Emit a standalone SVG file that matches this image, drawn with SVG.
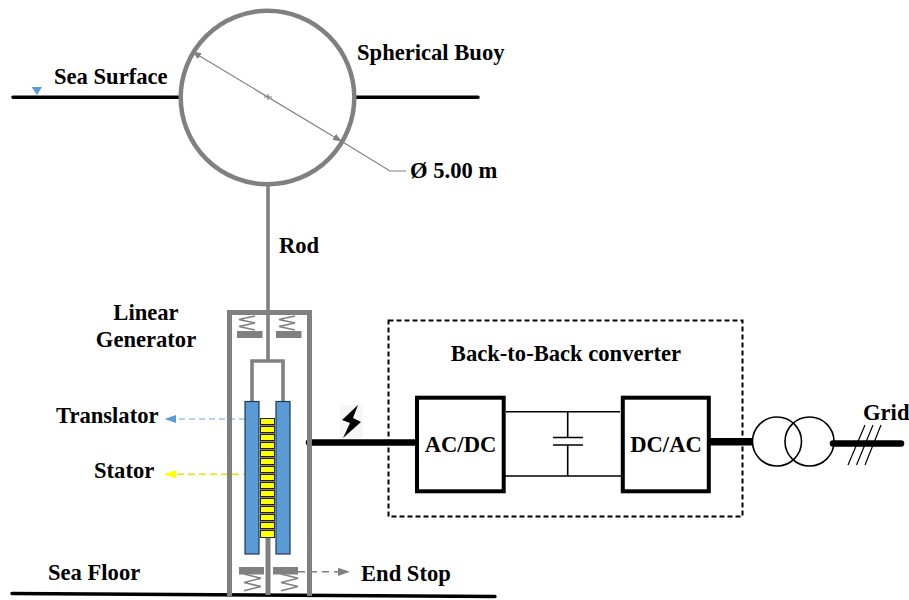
<svg xmlns="http://www.w3.org/2000/svg" width="909" height="600" viewBox="0 0 909 600">
<style>
text{font-family:"Liberation Serif","Times New Roman",serif;font-weight:bold;font-size:22.6px;fill:#000}
.g{fill:none;stroke:#808080;stroke-width:3.6}
.h{fill:none;stroke:#808080;stroke-width:5}
.k{fill:none;stroke:#000;stroke-linecap:round}
.bar{fill:#808080}
.spr{fill:none;stroke:#808080;stroke-width:1.5}
.blue{fill:#5b9bd5;stroke:#1f3a56;stroke-width:1.2}
.y{fill:#ff0;stroke:#222;stroke-width:1}
.box{fill:#fff;stroke:#000;stroke-width:4}
.t{fill:none;stroke:#000;stroke-width:1.6}
</style>
<defs>
<marker id="ga" markerWidth="9" markerHeight="7" refX="8" refY="3.5" orient="auto-start-reverse" markerUnits="userSpaceOnUse"><path d="M0 0L9 3.5L0 7z" fill="#808080"/></marker>
<polyline id="sprT" class="spr" points="8,0 -8,3.500 8,7 -8,10.500 8,14"/>
<polyline id="sprB" class="spr" points="-8.500,0 8.500,4.200 -8.500,8.400 8.500,12.600 -8.500,16.800"/>
</defs>
<g id="connectors">
<path class="k" stroke-width="3.5" d="M13 97.300H180M355 97.300H478"/>
<path class="k" stroke-width="3.5" d="M12 593.500L495 596.500"/>
<path class="k" stroke-width="6.500" d="M309 442.500H416"/>
<path class="k" stroke-width="7.500" style="stroke-linecap:butt" d="M708 441.700H753"/>
<path class="k" stroke-width="6.500" d="M833 443.500H901"/>
<path stroke="#808080" stroke-width="1.2" fill="none" marker-start="url(#ga)" marker-end="url(#ga)" d="M193 52L341 141"/>
<path stroke="#808080" stroke-width="1.2" fill="none" d="M341 141L390 171H406M264 97H272M268 94V100"/>
<path stroke="#9dc3e6" stroke-width="1.5" stroke-dasharray="6 4" fill="none" d="M245 419H176"/>
<path fill="#5b9bd5" d="M164.500 419L176 415V423z"/>
<path stroke="#e6e600" stroke-width="1.5" stroke-dasharray="7 4" fill="none" d="M272 474.300H176"/>
<path fill="#ff0" d="M164 474.300L176 470.300V478.300z"/>
<path stroke="#808080" stroke-width="1.5" stroke-dasharray="7 5" fill="none" d="M298 571.700H338"/>
<path fill="#808080" d="M350 571.700L338 567.700V576z"/>
</g>
<g id="buoy"><circle cx="267.500" cy="97.500" r="86.800" fill="none" stroke="#808080" stroke-width="4.500"/></g>
<g id="sea-surface"><path fill="#5b9bd5" d="M31.500 87H42L37 95z"/><text x="54" y="84">Sea Surface</text></g>
<g id="buoy-label"><text x="357" y="60">Spherical Buoy</text></g>
<g id="diameter-label"><text x="410" y="178">Ø 5.00 m</text></g>
<g id="rod"><path class="g" d="M268 185V361M252 402V361H283V402"/><text x="279" y="253">Rod</text></g>
<g id="generator">
<path class="h" d="M229.500 596V312.500H309.500V596"/>
<text x="146" y="320" text-anchor="middle">Linear</text><text x="146" y="347" text-anchor="middle">Generator</text>
</g>
<g id="end-stops-top">
<use href="#sprT" x="247" y="316"/><use href="#sprT" x="287" y="316"/>
<rect class="bar" x="237" y="331" width="25.500" height="7"/><rect class="bar" x="276" y="331" width="25.500" height="7"/>
</g>
<g id="translator">
<rect class="blue" x="245" y="401.500" width="14" height="152.500"/><rect class="blue" x="276" y="401.500" width="14" height="152.500"/>
<text x="56" y="423">Translator</text>
</g>
<g id="stator">
<rect x="260" y="418" width="15" height="120" fill="#808080"/>
<path class="h" d="M268 538V595"/>
<rect class="y" x="260.500" y="418.500" width="14" height="6"/><rect class="y" x="260.500" y="426.500" width="14" height="6"/><rect class="y" x="260.500" y="434.500" width="14" height="6"/><rect class="y" x="260.500" y="442.500" width="14" height="6"/><rect class="y" x="260.500" y="450.500" width="14" height="6"/><rect class="y" x="260.500" y="458.500" width="14" height="6"/><rect class="y" x="260.500" y="466.500" width="14" height="6"/><rect class="y" x="260.500" y="474.500" width="14" height="6"/><rect class="y" x="260.500" y="482.500" width="14" height="6"/><rect class="y" x="260.500" y="490.500" width="14" height="6"/><rect class="y" x="260.500" y="498.500" width="14" height="6"/><rect class="y" x="260.500" y="506.500" width="14" height="6"/><rect class="y" x="260.500" y="514.500" width="14" height="6"/><rect class="y" x="260.500" y="522.500" width="14" height="6"/><rect class="y" x="260.500" y="530.500" width="14" height="7"/>
<text x="94" y="478">Stator</text>
</g>
<g id="end-stops-bottom">
<rect class="bar" x="239" y="567" width="25" height="7.500"/><rect class="bar" x="273" y="567" width="25" height="7.500"/>
<use href="#sprB" x="252.500" y="574"/><use href="#sprB" x="289.500" y="574"/>
<text x="361" y="581">End Stop</text>
</g>
<g id="sea-floor"><text x="48" y="580">Sea Floor</text></g>
<g id="lightning"><rect x="340" y="405" width="23" height="33" fill="#f6f6f6"/><path fill="#000" d="M358 405L342 420L350 423L343 438L361 422L353 418z"/></g>
<g id="converter">
<rect x="388.500" y="320.500" width="354" height="196" fill="none" stroke="#000" stroke-width="2" stroke-dasharray="5 3"/>
<text x="566" y="361" text-anchor="middle">Back-to-Back converter</text>
<path class="t" d="M506 411.700H620M505 476H622M567.700 411.700V437.500M567.700 445V476M553 437.500H583M553 445H583"/>
</g>
<g id="acdc"><rect class="box" x="417" y="397.700" width="86.700" height="93.600"/><text x="460.500" y="452" text-anchor="middle">AC/DC</text></g>
<g id="dcac"><rect class="box" x="622.800" y="397.700" width="86" height="93.600"/><text x="666" y="452" text-anchor="middle">DC/AC</text></g>
<g id="transformer"><circle class="t" cx="777" cy="441.500" r="24.500"/><circle class="t" cx="809.500" cy="441.500" r="24.500"/></g>
<g id="grid">
<path class="t" style="stroke-width:1.2" d="M848 465L865 425M856.500 465L873 425M865 465L881 425"/>
<text x="863" y="420">Grid</text>
</g>
</svg>
